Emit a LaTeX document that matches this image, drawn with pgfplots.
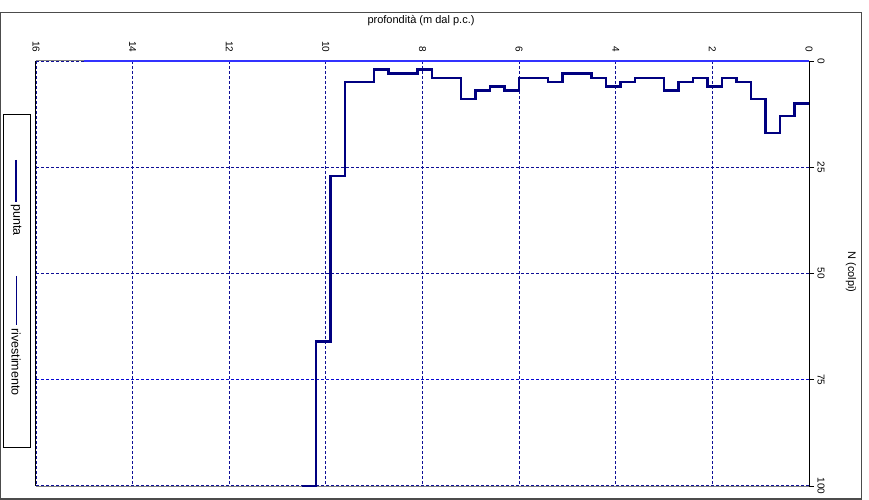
\documentclass[border=0pt]{standalone}
\usepackage{fontspec}
\setmainfont{Liberation Sans}
\usepackage{pgfplots}
\pgfplotsset{compat=1.18}
\definecolor{punta}{RGB}{0,0,128}
\definecolor{gridc}{RGB}{15,15,150}
\definecolor{riv}{RGB}{50,50,255}

\begin{document}
\begin{tikzpicture}[x=1pt,y=1pt]
\useasboundingbox (0,0) rectangle (869,500);
% frame
\draw[line width=1.2pt, black!70] (0.6,1) rectangle (861.5,487.5);
\begin{axis}[
  at={(36pt,14pt)}, anchor=south west,
  width=773pt, height=425pt, scale only axis,
  xmin=0, xmax=16, x dir=reverse,
  ymin=0, ymax=100, y dir=reverse,
  xtick={0,2,...,16}, ytick={0,25,50,100},
  extra y ticks={75},
  extra y tick style={major y grid style={blue!60!gridc, dash pattern=on 3pt off 2pt, line width=0.7pt}},
  xtick pos=right, ytick pos=right,
  xticklabel pos=right, yticklabel pos=right,
  xtick style={draw=none},
  ytick style={black, line width=0.8pt},
  tick align=outside, major tick length=5pt,
  ticklabel style={font=\fontsize{10}{12}\selectfont},
  xticklabel style={rotate=-90, anchor=east},
  yticklabel style={rotate=-90, anchor=south},
  /pgf/number format/assume math mode=true,
  axis line style={draw=none},
  xmajorgrids, ymajorgrids,
  major x grid style={gridc, dash pattern=on 3pt off 2pt, line width=0.8pt},
  major y grid style={gridc, dash pattern=on 3pt off 2pt, line width=1.3pt},
  clip=false,
]
% axis borders
\draw[black, line width=1pt] (axis cs:0,0) -- (axis cs:0,100);
\draw[black, line width=1pt] (axis cs:16,0) -- (axis cs:16,100);
\draw[gray, line width=1pt] (axis cs:16,100) -- (axis cs:0,100);
\draw[gray, line width=1pt] (axis cs:16,0) -- (axis cs:0,0);
% rivestimento
\addplot[riv, line width=1.3pt, mark=none] coordinates {(0,0)(15,0)};
% punta
\addplot[punta, line width=2.5pt, const plot mark left, mark=none] coordinates {
(0,10)(0.3,13)(0.6,17)(0.9,9)(1.2,5)(1.5,4)(1.8,6)(2.1,4)(2.4,5)(2.7,7)
(3.0,4)(3.3,4)(3.6,5)(3.9,6)(4.2,4)(4.5,3)(4.8,3)(5.1,5)(5.4,4)(5.7,4)
(6.0,7)(6.3,6)(6.6,7)(6.9,9)(7.2,4)(7.5,4)(7.8,2)(8.1,3)(8.4,3)(8.7,2)
(9.0,5)(9.3,5)(9.6,27)(9.9,66)(10.2,100)(10.5,100)};
\end{axis}
% titles
\node[font=\fontsize{11}{13}\selectfont] at (421,479) {profondità (m dal p.c.)};
\node[rotate=-90, font=\fontsize{11}{13}\selectfont] at (851,228) {N (colpi)};
% legend
\draw[line width=1pt] (3.5,52) rectangle (30.5,385);
\draw[punta, line width=2.5pt] (16,340) -- (16,298);
\node[rotate=-90, anchor=west, inner sep=1pt, font=\fontsize{12.5}{14}\selectfont] at (16,297) {punta};
\draw[punta, line width=1pt] (16,224) -- (16,175);
\node[rotate=-90, anchor=west, inner sep=1pt, font=\fontsize{12.5}{14}\selectfont] at (16,173) {rivestimento};
\end{tikzpicture}
\end{document}
